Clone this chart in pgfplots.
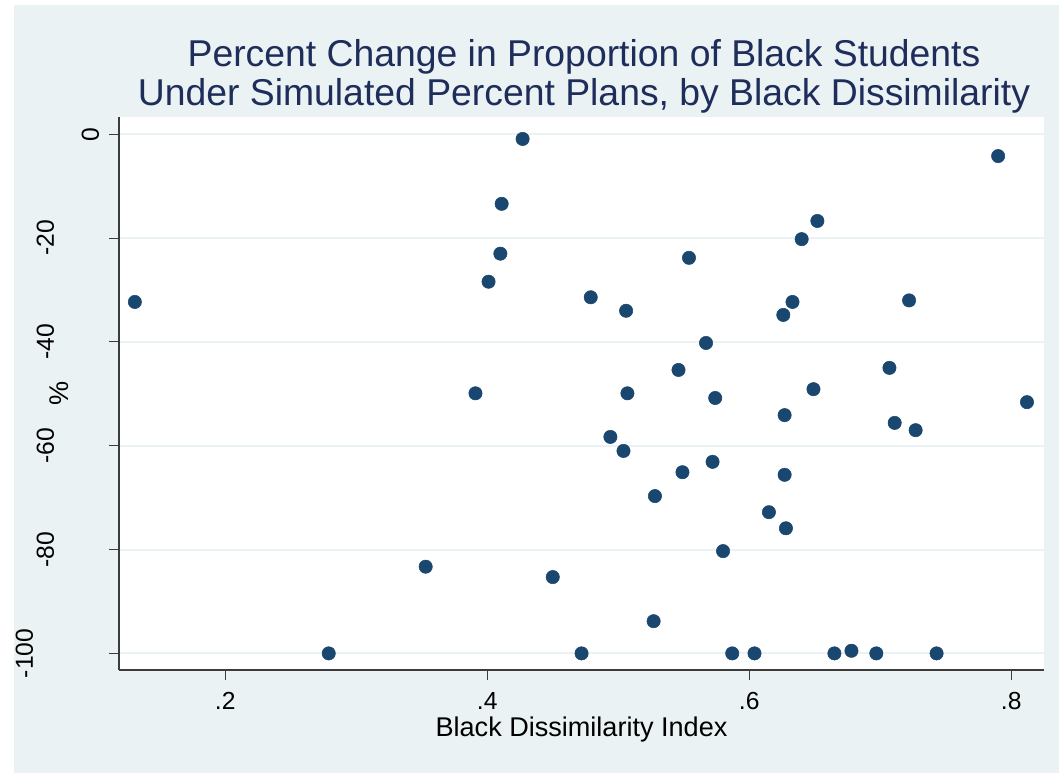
\documentclass[border=0pt]{standalone}
\usepackage{pgfplots}
\pgfplotsset{compat=1.18}
\usepackage{fontspec}
\setmainfont{Liberation Sans}
\definecolor{bgc}{RGB}{234,242,243}
\definecolor{mk}{RGB}{26,71,111}
\definecolor{tt}{RGB}{30,45,90}
\definecolor{ax}{RGB}{60,60,60}
\pgfplotstableread{
x y
0.131 -32.3
0.279 -100
0.353 -83.3
0.391 -49.9
0.401 -28.4
0.410 -23.0
0.411 -13.4
0.427 -0.9
0.450 -85.3
0.472 -100
0.479 -31.4
0.494 -58.3
0.504 -61.0
0.506 -34.0
0.507 -49.9
0.527 -93.8
0.528 -69.7
0.546 -45.4
0.549 -65.1
0.554 -23.8
0.567 -40.2
0.572 -63.1
0.574 -50.8
0.580 -80.3
0.587 -100
0.604 -100
0.615 -72.8
0.626 -34.8
0.627 -54.1
0.627 -65.6
0.628 -75.9
0.633 -32.3
0.640 -20.2
0.649 -49.1
0.652 -16.7
0.665 -100
0.678 -99.5
0.697 -100
0.707 -45.0
0.711 -55.6
0.722 -32.0
0.727 -57.0
0.743 -100
0.790 -4.2
0.812 -51.6
}\pts
\begin{document}
\begin{tikzpicture}[x=0.75pt,y=0.75pt]
\path[use as bounding box] (-119,-103) rectangle (940,670);
\fill[white] (-119,-103) rectangle (940,670);
\fill[bgc] (-105,-103) rectangle (940,665);
\begin{axis}[
  at={(0,0)}, anchor=south west,
  scale only axis, width=693.75pt, height=414.75pt,
  xmin=0.1189, xmax=0.825, ymin=-103.2, ymax=3.33,
  axis x line*=bottom, axis y line*=left,
  axis line style={draw=ax, line width=0.8pt, -},
  axis background/.style={fill=white},
  xtick={0.2,0.4,0.6,0.8}, xticklabels={.2,.4,.6,.8},
  ytick={-100,-80,-60,-40,-20,0},
  yticklabels={\raisebox{57pt}{-100},\raisebox{41.25pt}{-80},\raisebox{41.25pt}{-60},\raisebox{41.25pt}{-40},\raisebox{41.25pt}{-20},\raisebox{7.5pt}{0}},
  ymajorgrids, grid style={bgc, line width=1.5pt},
  tick align=outside, major tick length=7.5pt,
  tick style={ax, line width=0.8pt},
  minor tick num=0,
  /pgf/number format/assume math mode=true,
  ticklabel style={font=\fontsize{18.5}{20}\selectfont, text=black},
  xticklabel style={anchor=base, yshift=-22.5pt, inner sep=0pt},
  yticklabel style={rotate=90, anchor=base},
  xlabel={Black Dissimilarity Index}, ylabel={\%},
  label style={font=\fontsize{20.3}{22}\selectfont},
  xlabel style={at={(axis description cs:0.5,0)}, anchor=base, yshift=-50pt, inner sep=0pt},
  ylabel style={at={(axis description cs:0,0.5)}, anchor=center, yshift=45pt},
]
\addplot[only marks, mark=*, mark size=5pt, mark options={fill=mk, draw=mk}] table[x=x,y=y] {\pts};
\end{axis}
\node[anchor=base, text=tt, font=\fontsize{28}{31}\selectfont] at (465,603.3) {Percent Change in Proportion of Black Students};
\node[anchor=base, text=tt, font=\fontsize{28}{31}\selectfont] at (465,564) {Under Simulated Percent Plans, by Black Dissimilarity};
\end{tikzpicture}
\end{document}
